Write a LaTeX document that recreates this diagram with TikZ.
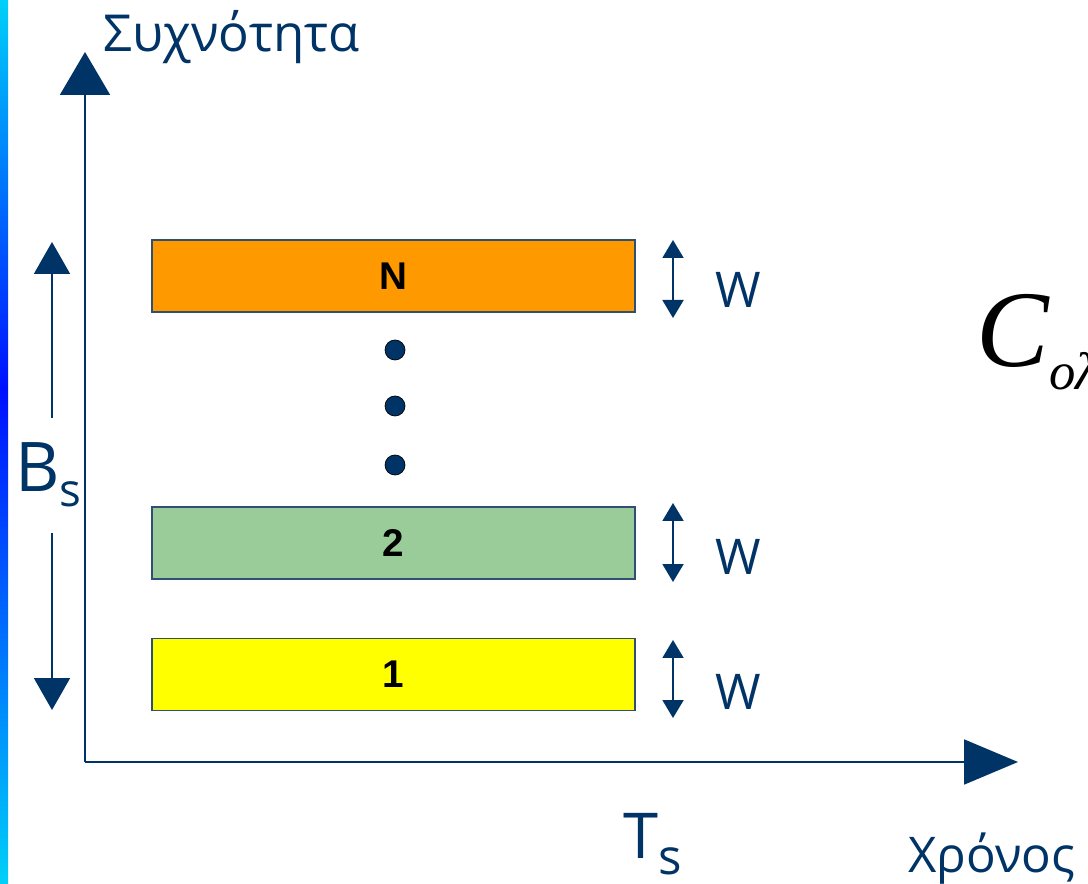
\documentclass[tikz,border=0pt]{standalone}
\usepackage{fontspec}
\setmainfont{Open Sans}
\newfontfamily\boxfont{Liberation Sans}
\newfontfamily\serfont{Liberation Serif}
\usetikzlibrary{arrows.meta}
\usetikzlibrary{positioning}
\definecolor{navy}{HTML}{003366}
\definecolor{bandedge}{HTML}{2F4F73}
\definecolor{barcyan}{HTML}{00D0F8}
\definecolor{barblue}{HTML}{0010FF}
\definecolor{bandN}{HTML}{FF9900}
\definecolor{band2}{HTML}{99CC99}
\definecolor{band1}{HTML}{FFFF00}
\pgfdeclareverticalshading{barshade}{100bp}{color(0bp)=(barcyan); color(25bp)=(barcyan); color(53bp)=(barblue); color(75bp)=(barcyan); color(100bp)=(barcyan)}
\tikzset{
    band/.style={
           rectangle,
           draw=bandedge, line width=1pt,
           minimum width=9.66cm, minimum height=1.44cm,
           inner sep=0pt,
           font=\boxfont\bfseries\fontsize{22}{22}\selectfont,
           },
}
\tikzset{
    lbl/.style={
           text=navy,
           inner sep=0pt,
           },
}
\tikzset{
    axis/.style={draw=navy, line width=1.1pt},
    dot/.style={circle, draw=black, line width=0.4pt, fill=navy, minimum size=0.4cm, inner sep=0pt},
}

\begin{document}
\begin{tikzpicture}[x=0.02cm,y=-0.02cm]
\useasboundingbox (0,0) rectangle (1088,884);
\clip (0,0) rectangle (1088,884);
\shade[shading=barshade] (0,0) rectangle (8,884);
\node[band,fill=band1] (b1) at (393.5,674.5) {1};
\node[band,fill=band2,above = 1.16cm of b1] (b2) {2};
\node[band,fill=bandN,above = 3.86cm of b2] (bN) {N};
\node[dot] (d3) at (395,465) {};
\node[dot] (d2) at (395,406) {};
\node[dot] (d1) at (395,350) {};
\coordinate (o) at (85,762);
\coordinate (ytop) at (85,52);
\coordinate (xend) at (1018,762);
\draw[axis,-{Triangle[length=0.86cm,width=1cm]}] (o) -- (ytop);
\draw[axis,-{Triangle[length=1.08cm,width=0.9cm]}] (o) -- (xend);
\node[lbl,anchor=base west,font=\fontsize{29}{29}\selectfont] (freq) at (103,52) {Συχνότητα};
\node[lbl,anchor=base west,font=\fontsize{28}{28}\selectfont] (time) at (908,872) {Χρόνος};
\node[lbl,anchor=base west,font=\fontsize{36}{36}\selectfont] (ts) at (623,858) {T\raisebox{-0.32cm}{\fontsize{28}{28}\selectfont s}};
\node[lbl,anchor=base west,font=\fontsize{39}{39}\selectfont] (bs) at (15,492) {B\raisebox{-0.3cm}{\fontsize{26}{26}\selectfont s}};
\coordinate (bsup) at (52,242);
\coordinate (bsdown) at (52,710);
\draw[axis,-{Triangle[length=0.64cm,width=0.72cm]},shorten <=0.5cm] (bsup |- bs.north) -- (bsup);
\draw[axis,-{Triangle[length=0.64cm,width=0.72cm]},shorten <=0.5cm] (bsdown |- bs.south) -- (bsdown);
\coordinate (wNt) at (673,240);
\coordinate (wNb) at (673,318);
\coordinate (w2t) at (673,503);
\coordinate (w2b) at (673,582);
\coordinate (w1t) at (673,640);
\coordinate (w1b) at (673,718);
\draw[axis,{Triangle[length=0.36cm,width=0.42cm]}-{Triangle[length=0.36cm,width=0.42cm]}] (wNt) -- (wNb);
\draw[axis,{Triangle[length=0.36cm,width=0.42cm]}-{Triangle[length=0.36cm,width=0.42cm]}] (w2t) -- (w2b);
\draw[axis,{Triangle[length=0.36cm,width=0.42cm]}-{Triangle[length=0.36cm,width=0.42cm]}] (w1t) -- (w1b);
\node[lbl,font=\fontsize{28}{28}\selectfont] (wN) at (738,290) {W};
\node[lbl,font=\fontsize{28}{28}\selectfont] (w2) at (738,557) {W};
\node[lbl,font=\fontsize{28}{28}\selectfont] (w1) at (738,692) {W};
\node[anchor=base west,inner sep=0pt,font=\serfont\itshape\fontsize{62}{62}\selectfont] (cap) at (976,367) {C\raisebox{-0.46cm}{\fontsize{30}{30}\selectfont ολ}};
\end{tikzpicture}
\end{document}
